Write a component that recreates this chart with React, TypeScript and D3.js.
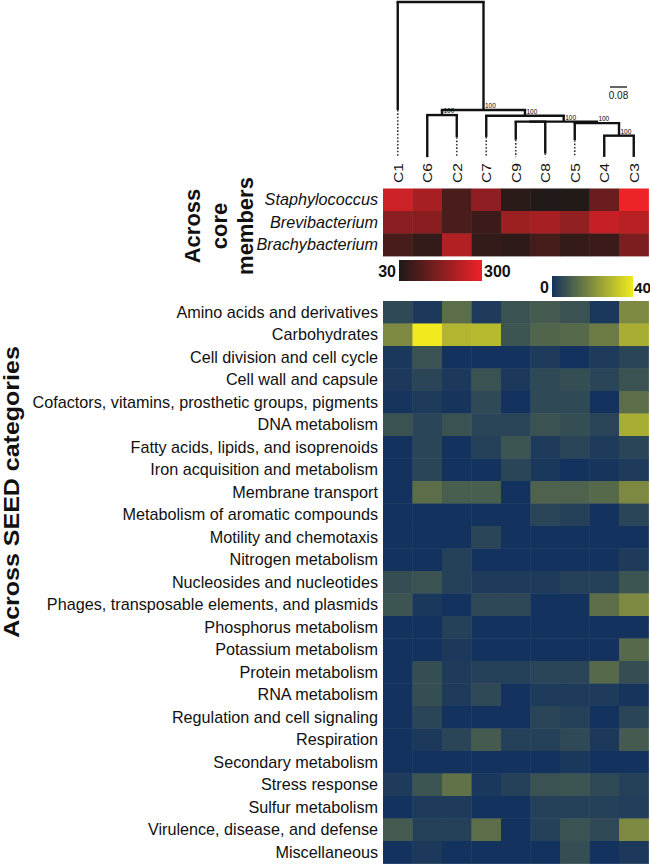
import React from "react";
import * as d3 from "d3";

const columns = ["C1", "C6", "C2", "C7", "C9", "C8", "C5", "C4", "C3"];

const memberNames = ["Staphylococcus", "Brevibacterium", "Brachybacterium"];
const staphylococcusValues = [256, 210, 89, 177, 48, 38, 37, 130, 300];
const brevibacteriumValues = [171, 169, 89, 69, 195, 210, 182, 246, 231];
const brachybacteriumValues = [87, 58, 223, 58, 53, 84, 61, 69, 153];
const memberValues = [staphylococcusValues, brevibacteriumValues, brachybacteriumValues];

const seedCategories = [
  "Amino acids and derivatives",
  "Carbohydrates",
  "Cell division and cell cycle",
  "Cell wall and capsule",
  "Cofactors, vitamins, prosthetic groups, pigments",
  "DNA metabolism",
  "Fatty acids, lipids, and isoprenoids",
  "Iron acquisition and metabolism",
  "Membrane transport",
  "Metabolism of aromatic compounds",
  "Motility and chemotaxis",
  "Nitrogen metabolism",
  "Nucleosides and nucleotides",
  "Phages, transposable elements, and plasmids",
  "Phosphorus metabolism",
  "Potassium metabolism",
  "Protein metabolism",
  "RNA metabolism",
  "Regulation and cell signaling",
  "Respiration",
  "Secondary metabolism",
  "Stress response",
  "Sulfur metabolism",
  "Virulence, disease, and defense",
  "Miscellaneous",
];
const seedValues = [
  [5, 1.5, 13, 2, 7, 9, 7, 1, 19],
  [19, 40, 28.5, 29.5, 7.5, 11, 12, 16, 27],
  [1, 7, 0, 0, 0, 2, 0, 2, 4],
  [1.5, 4, 1.5, 7, 1.5, 5, 6, 4, 7],
  [0.5, 2, 0.5, 5, 0, 5, 5, 0, 13],
  [7, 4, 7, 4, 4, 7, 6, 4, 27],
  [0, 4, 0, 3, 7.5, 2, 4, 2, 4],
  [0, 4, 0, 0, 4, 1, 0, 0.5, 2],
  [0, 13, 9.5, 9.5, 0, 10.5, 10.5, 12, 19],
  [0, 0, 0, 0, 0, 4, 3, 0, 4],
  [0, 0, 0, 4, 0, 0, 0, 0, 0],
  [0, 0, 3, 0, 0, 0, 0, 0, 2],
  [6, 7, 3, 2, 2, 2, 3, 3, 7.5],
  [7.5, 1, 0, 4.5, 4.5, 0, 0, 13, 19],
  [0, 0, 3, 0, 0, 0, 0, 0, 0],
  [0, 0, 1.5, 0, 0, 0, 0, 0, 12],
  [0, 6, 2, 3, 3, 4, 4, 12, 6],
  [0, 6, 2, 5, 0, 2, 2, 2, 0.5],
  [0, 4, 0, 0, 0, 4, 3, 0, 4],
  [0, 1.5, 4, 9, 3, 3, 5, 1.5, 9],
  [0, 0, 0, 0, 0, 0, 1, 0, 0],
  [2, 7.5, 14, 1, 3, 7, 7.5, 5, 3],
  [0, 2, 2, 0, 0, 3, 3, 3, 2.5],
  [9, 3, 3, 13, 0, 3, 7, 5, 19],
  [0, 1.5, 0, 0, 0, 0, 6, 0, 1.5],
];

// dendrogram (phylogram) as parent table
const treeIds = ["root", "C1", "R", "A", "C6", "C2", "B", "C7", "C", "D", "C9", "C8", "E", "C5", "F", "C4", "C3"];
const treeParents = [null, "root", "root", "R", "A", "A", "R", "B", "B", "C", "D", "D", "C", "E", "E", "F", "F"];
const branchLengths = [0, 0.508, 0.508, 0.024, 0.198, 0.104, 0.027, 0.1, 0.028, 0, 0.085, 0.15, 0.007, 0.08, 0.059, 0.1, 0.1];
const bootstraps = [null, null, 100, 100, null, null, 100, null, 100, null, null, null, 100, null, 100, null, null];
const scaleBarValue = 0.08;

const redDomain = [30, 300];
const blueDomain = [0, 40];
const redColors = ["#1c1a17", "#ee2229"];
const blueColors = ["#14325e", "#f0ea1e"];

const FONT = "Liberation Sans, Arial, Helvetica, sans-serif";

export default function App() {
  const x = d3.scaleBand<string>().domain(columns).range([383, 648.5]);
  const bw = x.bandwidth();
  const yRed = d3.scaleBand<string>().domain(memberNames).range([188.5, 256]);
  const yBlue = d3.scaleBand<string>().domain(seedCategories).range([301, 863.5]);
  const red = d3.scaleLinear<string>().domain(redDomain).range(redColors).interpolate(d3.interpolateRgb).clamp(true);
  const blue = d3.scaleLinear<string>().domain(blueDomain).range(blueColors).interpolate(d3.interpolateRgb).clamp(true);
  const yTree = d3.scaleLinear().domain([0, scaleBarValue]).range([2, 19]);

  const table = treeIds.map((id, i) => ({ id, parent: treeParents[i], len: branchLengths[i], boot: bootstraps[i] }));
  const root: any = d3.stratify<any>().id((d) => d.id).parentId((d) => d.parent)(table);
  root.eachBefore((n: any) => {
    n.dist = (n.parent ? n.parent.dist : 0) + n.data.len;
  });
  root.eachAfter((n: any) => {
    if (n.children) {
      n.px = (n.children[0].px + n.children[n.children.length - 1].px) / 2;
    } else {
      n.px = (x(n.id) as number) + bw / 2;
    }
  });
  const maxDist = d3.max(root.leaves(), (l: any) => l.dist) as number;
  const leafEnd = yTree(maxDist);

  const nodes: any[] = root.descendants();
  const solid: any[] = [];
  const dotted: any[] = [];
  const boots: any[] = [];
  nodes.forEach((n, i) => {
    if (n.parent) {
      solid.push(
        <line key={"v" + i} x1={n.px} x2={n.px} y1={yTree(n.parent.dist)} y2={yTree(n.dist)} />
      );
    }
    if (n.children) {
      solid.push(
        <line key={"h" + i} x1={n.children[0].px - 1.2} x2={n.children[n.children.length - 1].px + 1.2} y1={yTree(n.dist)} y2={yTree(n.dist)} />
      );
      if (n.data.boot != null) {
        boots.push(
          <text key={"b" + i} x={n.px + 1.5} y={yTree(n.dist) - 1.8} fontSize={6.5} fill="#000" fontFamily={FONT}>
            {n.data.boot}
          </text>
        );
      }
    } else if (yTree(n.dist) < leafEnd - 1) {
      dotted.push(
        <line key={"d" + i} x1={n.px} x2={n.px} y1={yTree(n.dist)} y2={leafEnd} />
      );
    }
  });

  const sbLen = yTree(scaleBarValue) - yTree(0);

  return (
    <svg width={650} height={864} style={{ position: "absolute", left: 0, top: 0, background: "#fff" }} fontFamily={FONT}>
      <defs>
        <linearGradient id="redGrad" x1="0" x2="1" y1="0" y2="0">
          <stop offset="0" stopColor={red(redDomain[0])} />
          <stop offset="1" stopColor={red(redDomain[1])} />
        </linearGradient>
        <linearGradient id="blueGrad" x1="0" x2="1" y1="0" y2="0">
          <stop offset="0" stopColor={blue(blueDomain[0])} />
          <stop offset="1" stopColor={blue(blueDomain[1])} />
        </linearGradient>
      </defs>

      {/* dendrogram */}
      <g stroke="#111" strokeWidth={2.4} strokeLinecap="butt">{solid}</g>
      <g stroke="#333" strokeWidth={1.6} strokeDasharray="1.6,1.8">{dotted}</g>
      <g>{boots}</g>
      <line x1={610} x2={610 + sbLen} y1={87} y2={87} stroke="#111" strokeWidth={1.3} />
      <text x={610 + sbLen / 2} y={99} fontSize={10} textAnchor="middle" fill="#111">
        {scaleBarValue}
      </text>

      {/* column labels */}
      {columns.map((c) => (
        <text
          key={c}
          transform={`translate(${(x(c) as number) + bw / 2},183) rotate(-90) scale(1,0.88)`}
          fontSize={15.5}
          dy="0.35em"
          fill="#111"
        >
          {c}
        </text>
      ))}

      {/* red heatmap */}
      {memberNames.map((m, r) =>
        columns.map((c, j) => (
          <rect
            key={m + c}
            x={x(c) as number}
            y={yRed(m) as number}
            width={bw + 0.4}
            height={yRed.bandwidth() + 0.4}
            fill={red(memberValues[r][j])}
          />
        ))
      )}
      {memberNames.map((m) => (
        <text key={m} x={378} y={(yRed(m) as number) + yRed.bandwidth() / 2} dy="0.35em" textAnchor="end" fontSize={16.2} fontStyle="italic" fill="#111">
          {m}
        </text>
      ))}
      {["Across", "core", "members"].map((t, i) => (
        <text
          key={t}
          transform={`translate(${200 + i * 26.5},226) rotate(-90)`}
          textAnchor="middle"
          fontSize={22}
          fontWeight="bold"
          fill="#111"
        >
          {t}
        </text>
      ))}

      {/* red legend */}
      <rect x={399} y={260} width={83} height={21} fill="url(#redGrad)" />
      <text x={396} y={277} textAnchor="end" fontSize={16} fontWeight="bold" fill="#111">{redDomain[0]}</text>
      <text x={484} y={277} fontSize={16} fontWeight="bold" fill="#111">{redDomain[1]}</text>

      {/* blue legend */}
      <rect x={552} y={276} width={81} height={21} fill="url(#blueGrad)" />
      <text x={549} y={293} textAnchor="end" fontSize={16} fontWeight="bold" fill="#111">{blueDomain[0]}</text>
      <text x={634} y={293} fontSize={15.5} fontWeight="bold" fill="#111">{blueDomain[1]}</text>

      {/* blue heatmap */}
      {seedCategories.map((s, r) =>
        columns.map((c, j) => (
          <rect
            key={s + c}
            x={x(c) as number}
            y={yBlue(s) as number}
            width={bw + 0.4}
            height={yBlue.bandwidth() + 0.4}
            fill={blue(seedValues[r][j])}
          />
        ))
      )}
      {seedCategories.map((s) => (
        <text key={s} x={378} y={(yBlue(s) as number) + yBlue.bandwidth() / 2} dy="0.35em" textAnchor="end" fontSize={16.2} fill="#111">
          {s}
        </text>
      ))}
      <text
        transform="translate(19,492) rotate(-90) scale(1,0.85)"
        textAnchor="middle"
        fontSize={25}
        fontWeight="bold"
        fill="#111"
      >
        Across SEED categories
      </text>
    </svg>
  );
}
